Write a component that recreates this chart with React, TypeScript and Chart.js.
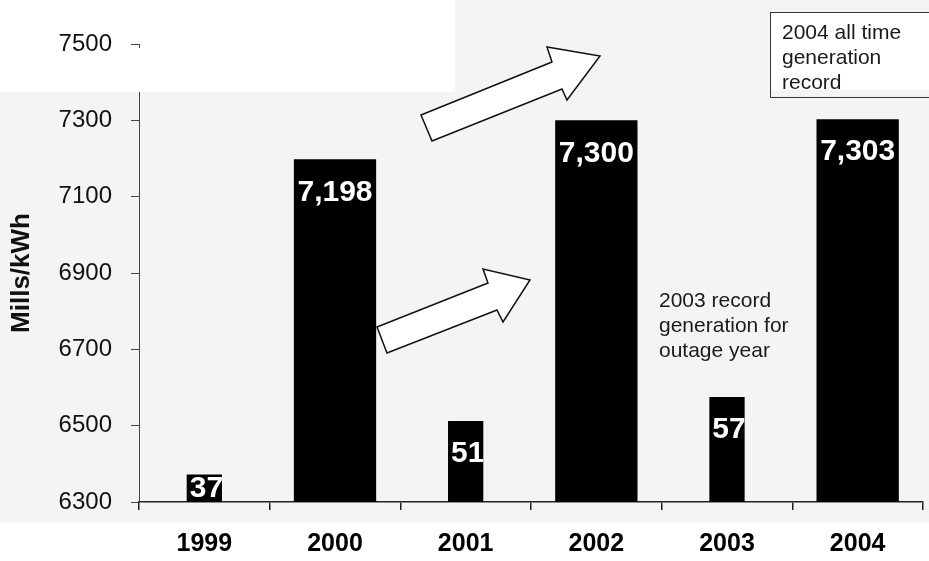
import React, { useEffect, useRef } from "react";
import { Chart, registerables } from "chart.js";

Chart.register(...registerables);

const years = ["1999", "2000", "2001", "2002", "2003", "2004"];
const wideValues = [null, 7198, null, 7300, null, 7303];
const narrowValues = [6372, null, 6512, null, 6575, null];
const barLabels = ["372", "7,198", "512", "7,300", "575", "7,303"];
const yTicks = [6300, 6500, 6700, 6900, 7100, 7300, 7500];
const yTitle = "Mills/kWh";
const noteTopRight = ["2004 all time", "generation", "record"];
const noteMiddle = ["2003 record", "generation for", "outage year"];

const FONT = "'Liberation Sans', Arial, sans-serif";

const arrowUpper: [number, number][] = [
  [421, 115], [552, 62], [547, 47], [600, 56], [567, 100], [562, 89], [432, 141],
];
const arrowLower: [number, number][] = [
  [377, 327], [488, 283], [483, 269], [530, 280], [503, 322], [497, 310], [387, 353],
];

const backgroundPlugin = {
  id: "bgPlugin",
  beforeDraw(chart: any) {
    const { ctx, width, height } = chart;
    ctx.save();
    ctx.fillStyle = "#f4f4f4";
    ctx.fillRect(0, 0, width, height);
    ctx.fillStyle = "#ffffff";
    ctx.fillRect(0, 0, 455, 92);
    ctx.fillRect(0, 523, width, height - 523);
    ctx.restore();
  },
  beforeDatasetsDraw(chart: any) {
    const { ctx, chartArea } = chart;
    ctx.save();
    ctx.fillStyle = "#ffffff";
    ctx.fillRect(chartArea.left - 3, chartArea.top + 4, 6, 92 - chartArea.top - 4);
    ctx.restore();
  },
};

function drawArrow(ctx: CanvasRenderingContext2D, pts: [number, number][]) {
  ctx.beginPath();
  pts.forEach(([x, y], i) => (i === 0 ? ctx.moveTo(x, y) : ctx.lineTo(x, y)));
  ctx.closePath();
  ctx.fillStyle = "#ffffff";
  ctx.fill();
  ctx.strokeStyle = "#111111";
  ctx.lineWidth = 1.5;
  ctx.stroke();
}

const annotationPlugin = {
  id: "annotations",
  afterDraw(chart: any) {
    const { ctx, chartArea } = chart;
    ctx.save();
    // bar labels
    ctx.font = `bold 30px ${FONT}`;
    ctx.fillStyle = "#ffffff";
    ctx.textBaseline = "middle";
    const bottom = chartArea.bottom;
    chart.data.datasets.forEach((ds: any, di: number) => {
      const meta = chart.getDatasetMeta(di);
      meta.data.forEach((bar: any, i: number) => {
        if (ds.data[i] === null || ds.data[i] === undefined) return;
        const props = bar.getProps(["x", "y", "width"], true);
        const text = barLabels[i];
        const left = props.x - props.width / 2;
        if (ds.narrow) {
          ctx.save();
          ctx.beginPath();
          ctx.rect(left, props.y, props.width, bottom - props.y);
          ctx.clip();
          ctx.textAlign = "left";
          const ty = Math.min(props.y + 33, bottom - 13);
          ctx.fillText(text, left + 3, ty);
          ctx.restore();
        } else {
          ctx.textAlign = "center";
          ctx.fillText(text, props.x, props.y + 33);
        }
      });
    });

    // arrows
    drawArrow(ctx, arrowUpper);
    drawArrow(ctx, arrowLower);

    // top right box
    ctx.fillStyle = "#ffffff";
    ctx.fillRect(770, 12, 170, 78);
    ctx.strokeStyle = "#333333";
    ctx.lineWidth = 1;
    ctx.beginPath();
    ctx.moveTo(770.5, 12);
    ctx.lineTo(770.5, 97.5);
    ctx.lineTo(935, 97.5);
    ctx.moveTo(770, 12.5);
    ctx.lineTo(935, 12.5);
    ctx.stroke();
    ctx.fillStyle = "#1a1a1a";
    ctx.font = `21px ${FONT}`;
    ctx.textAlign = "left";
    ctx.textBaseline = "alphabetic";
    noteTopRight.forEach((line, i) => ctx.fillText(line, 782, 39 + i * 25));

    // middle note
    noteMiddle.forEach((line, i) => ctx.fillText(line, 659, 307 + i * 25));
    ctx.restore();
  },
};

export default function App() {
  const ref = useRef<HTMLCanvasElement | null>(null);
  useEffect(() => {
    if (!ref.current) return;
    const chart = new Chart(ref.current, {
      type: "bar",
      data: {
        labels: years,
        datasets: [
          {
            data: wideValues as any,
            backgroundColor: "#000000",
            barPercentage: 0.63,
            categoryPercentage: 1,
            grouped: false,
          } as any,
          {
            data: narrowValues as any,
            backgroundColor: "#000000",
            barPercentage: 0.27,
            categoryPercentage: 1,
            grouped: false,
            narrow: true,
          } as any,
        ],
      },
      options: {
        responsive: false,
        animation: false,
        layout: { padding: { left: 0, right: 6, top: 44, bottom: 0 } },
        plugins: {
          legend: { display: false },
          tooltip: { enabled: false },
          title: { display: false },
        },
        scales: {
          x: {
            type: "category",
            grid: {
              offset: true,
              drawOnChartArea: false,
              drawTicks: true,
              tickLength: 8,
              color: "#222222",
              lineWidth: 1.5,
            },
            border: { display: true, color: "#222222", width: 1.5 },
            ticks: {
              color: "#000000",
              font: { family: FONT, size: 25, weight: "bold" },
              padding: 19,
              maxRotation: 0,
            },
            afterFit(scale: any) {
              scale.height = 59;
            },
          },
          y: {
            type: "linear",
            min: yTicks[0],
            max: yTicks[yTicks.length - 1],
            afterBuildTicks(scale: any) {
              scale.ticks = yTicks.map((v) => ({ value: v }));
            },
            ticks: {
              color: "#111111",
              font: { family: FONT, size: 24 },
              padding: 19,
              callback: (v: any) => String(v),
            },
            grid: {
              drawOnChartArea: false,
              drawTicks: true,
              tickLength: 8,
              color: "#444444",
            },
            border: { display: true, color: "#444444", width: 1 },
            title: {
              display: true,
              text: yTitle,
              color: "#111111",
              font: { family: FONT, size: 26, weight: "bold" },
              padding: { top: 6, bottom: 0 },
            },
            afterFit(scale: any) {
              scale.width = 139;
            },
          },
        },
      },
      plugins: [backgroundPlugin, annotationPlugin],
    });
    return () => chart.destroy();
  }, []);
  return (
    <div style={{ position: "absolute", left: 0, top: 0, width: 929, height: 561 }}>
      <canvas ref={ref} width={929} height={561} />
    </div>
  );
}
